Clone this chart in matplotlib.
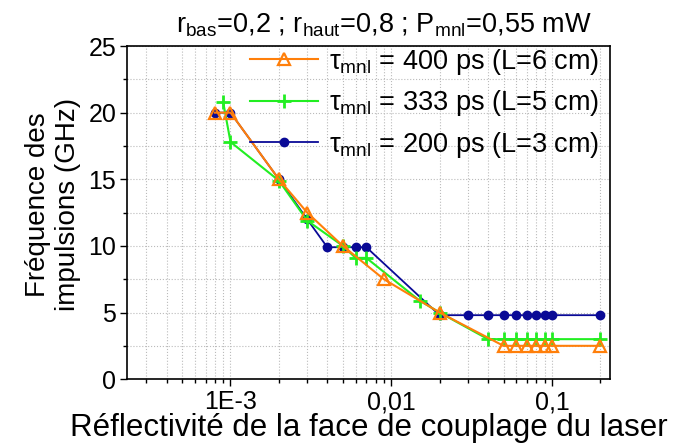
import matplotlib
matplotlib.use("Agg")
import matplotlib.pyplot as plt

plt.rcParams['font.family'] = ['Liberation Sans', 'DejaVu Sans']
plt.rcParams['mathtext.fontset'] = 'custom'
plt.rcParams['mathtext.rm'] = 'Liberation Sans'
plt.rcParams['mathtext.it'] = 'Liberation Sans:italic'

# donnees
x_400 = [8e-4, 1e-3, 2e-3, 3e-3, 5e-3, 9e-3, 0.02, 0.05, 0.06, 0.07, 0.08, 0.09, 0.1, 0.2]
y_400 = [20, 20, 15, 12.5, 10, 7.5, 5, 2.5, 2.5, 2.5, 2.5, 2.5, 2.5, 2.5]

x_333 = [9e-4, 1e-3, 2e-3, 3e-3, 5e-3, 6e-3, 7e-3, 0.015, 0.02, 0.04, 0.05, 0.06, 0.07, 0.08, 0.09, 0.1, 0.2]
y_333 = [20.8, 17.8, 14.9, 11.9, 10, 9.1, 9.1, 5.9, 5, 3, 3, 3, 3, 3, 3, 3, 3]

x_200 = [8e-4, 1e-3, 2e-3, 3e-3, 4e-3, 5e-3, 6e-3, 7e-3, 0.02, 0.03, 0.04, 0.05, 0.06, 0.07, 0.08, 0.09, 0.1, 0.2]
y_200 = [20, 20, 15, 12, 9.9, 9.9, 9.9, 9.9, 4.8, 4.8, 4.8, 4.8, 4.8, 4.8, 4.8, 4.8, 4.8, 4.8]

xticks = [1e-3, 1e-2, 1e-1]
xtick_labels = ['1E-3', '0,01', '0,1']

fig = plt.figure(figsize=(6.79, 4.45), dpi=100)
ax = fig.add_axes([0.1875, 0.148, 0.7105, 0.7486])

orange = '#FF7F0A'
green = '#22EE22'
navy = '#0A0A96'

l3, = ax.plot(x_200, y_200, '-o', color=navy, lw=1.3, ms=6)
l2, = ax.plot(x_333, y_333, '-+', color=green, lw=1.5, ms=10, mew=2)
l1, = ax.plot(x_400, y_400, '-^', color=orange, lw=1.5, ms=8,
              mfc='none', mew=1.6)

ax.set_xscale('log')
ax.set_xlim(2.28e-4, 0.229)
ax.set_ylim(0, 25)
ax.set_yticks([0, 5, 10, 15, 20, 25])
ax.set_yticks([2.5, 7.5, 12.5, 17.5, 22.5], minor=True)
ax.set_xticks(xticks)
ax.set_xticklabels(xtick_labels)
ax.xaxis.set_minor_formatter(matplotlib.ticker.NullFormatter())

ax.tick_params(which='major', direction='out', length=5, width=1, labelsize=18, pad=3)
ax.tick_params(which='minor', direction='out', length=3, width=1)
ax.grid(True, which='both', ls=':', color='#bbbbbb', lw=0.8)
for s in ax.spines.values():
    s.set_linewidth(1.2)

ax.set_xlabel('Réflectivité de la face de couplage du laser', fontsize=22.5, labelpad=-1)
ax.set_ylabel('Fréquence des\nimpulsions (GHz)', fontsize=20, linespacing=1.2)
ax.yaxis.set_label_coords(-0.095, 0.525)

leg = ax.legend([l1, l2, l3],
                ['τ$_{\\rm mnl}$ = 400 ps (L=6 cm)',
                 'τ$_{\\rm mnl}$ = 333 ps (L=5 cm)',
                 'τ$_{\\rm mnl}$ = 200 ps (L=3 cm)'],
                loc='upper right', frameon=False, fontsize=19.5,
                handlelength=2.5, handletextpad=0.4, labelspacing=0.42,
                borderaxespad=0.0, bbox_to_anchor=(1.0, 1.03), numpoints=1)

fig.text(0.566, 0.928, r'r$_{\rm bas}$=0,2 ; r$_{\rm haut}$=0,8 ; P$_{\rm mnl}$=0,55 mW',
         ha='center', va='baseline', fontsize=19.5)

fig.savefig('out.png', dpi=100)
